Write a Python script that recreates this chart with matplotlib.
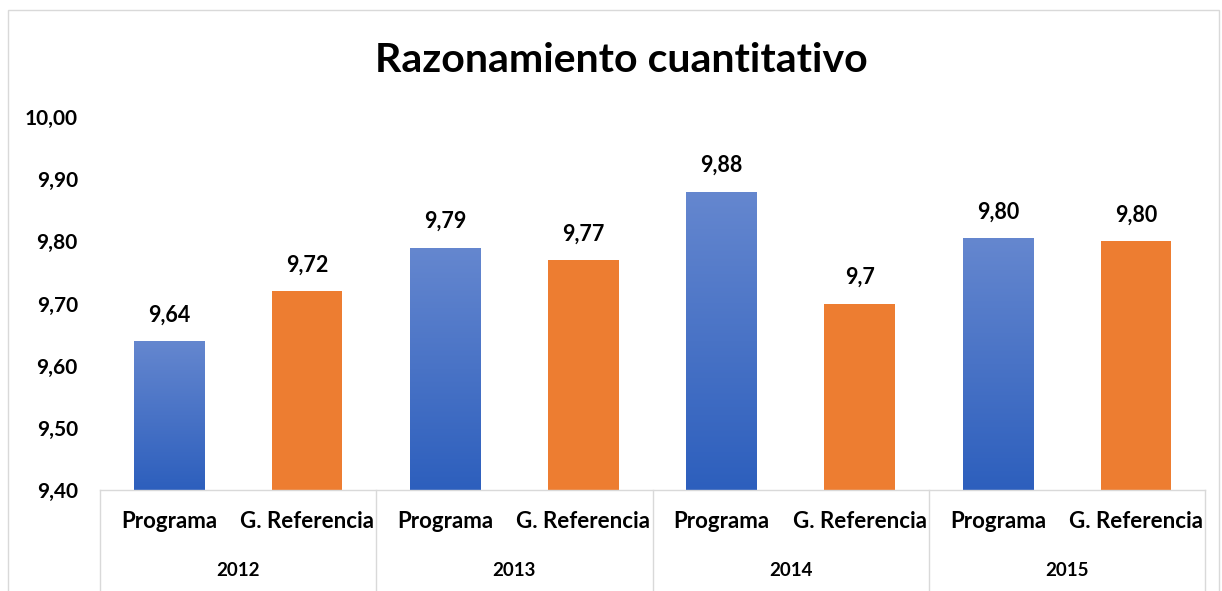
import numpy as np
import matplotlib.pyplot as plt
import matplotlib.transforms as mtransforms
from matplotlib.colors import LinearSegmentedColormap
from matplotlib.ticker import FuncFormatter

plt.rcParams['font.family'] = ['Lato', 'DejaVu Sans']

# data
years = ["2012", "2013", "2014", "2015"]
groups = ["Programa", "G. Referencia"]
programa = [9.64, 9.79, 9.88, 9.805]
referencia = [9.72, 9.77, 9.70, 9.80]
programa_labels = ["9,64", "9,79", "9,88", "9,80"]
referencia_labels = ["9,72", "9,77", "9,7", "9,80"]

fig = plt.figure(figsize=(12.22, 5.91), dpi=100)
ax = fig.add_axes([100 / 1222, 1 - 490 / 591, 1105 / 1222, 373 / 591])

# outer chart border
fig.patches.append(plt.Rectangle((8 / 1222, -0.01), 1211 / 1222, 1 - 10 / 591 + 0.01,
                                 transform=fig.transFigure, fill=False,
                                 edgecolor="#d9d9d9", linewidth=1.0))

ymin, ymax = 9.4, 10.0
width = 0.51
blue_cmap = LinearSegmentedColormap.from_list("blue_grad", ["#2d5fbd", "#6587cf"])
gradient = np.linspace(0, 1, 256).reshape(-1, 1)

for i, year in enumerate(years):
    xp = 2 * i
    xr = 2 * i + 1

    # gradient blue bar for Programa
    bar = ax.bar(xp, programa[i] - ymin, bottom=ymin, width=width, color="none",
                 edgecolor="none")[0]
    img = ax.imshow(gradient, cmap=blue_cmap, origin="lower", aspect="auto",
                    extent=[xp - width / 2, xp + width / 2, ymin, programa[i]], zorder=2)
    img.set_clip_path(bar)

    # solid orange bar for G. Referencia
    ax.bar(xr, referencia[i] - ymin, bottom=ymin, width=width, color="#ed7d31", zorder=2)

    # value labels
    ax.text(xp, programa[i] + 0.025, programa_labels[i], ha="center", va="bottom",
            fontsize=15.5, fontweight="bold", color="#000000")
    ax.text(xr, referencia[i] + 0.025, referencia_labels[i], ha="center", va="bottom",
            fontsize=15.5, fontweight="bold", color="#000000")

ax.set_xlim(-0.5, 2 * len(years) - 0.5)
ax.set_ylim(ymin, ymax)
ax.set_yticks(np.arange(9.4, 10.001, 0.1))
ax.yaxis.set_major_formatter(FuncFormatter(lambda v, p: f"{v:.2f}".replace(".", ",")))
ax.tick_params(axis="y", length=0, pad=16, labelsize=15)
for lbl in ax.get_yticklabels():
    lbl.set_fontweight("bold")
ax.set_xticks([])

for side in ["top", "right", "left"]:
    ax.spines[side].set_visible(False)
ax.spines["bottom"].set_color("#d9d9d9")
ax.spines["bottom"].set_linewidth(1.0)

# multi-level category axis
trans = mtransforms.blended_transform_factory(ax.transData, ax.transAxes)
drop = -101 / 373
for k in range(len(years) + 1):
    xs = 2 * k - 0.5
    ax.plot([xs, xs], [0, drop], transform=trans, color="#d9d9d9", linewidth=1.0,
            clip_on=False)
for i, year in enumerate(years):
    for j, g in enumerate(groups):
        ax.text(2 * i + j, -32 / 373, g, transform=trans, ha="center", va="center",
                fontsize=16, fontweight="bold")
    ax.text(2 * i + 0.5, -80 / 373, year, transform=trans, ha="center", va="center",
            fontsize=13.5, fontweight="bold")

fig.text(621 / 1222, 1 - 60 / 591, "Razonamiento cuantitativo", ha="center", va="center",
         fontsize=29.5, fontweight="bold")

fig.savefig("out.png", dpi=100)
